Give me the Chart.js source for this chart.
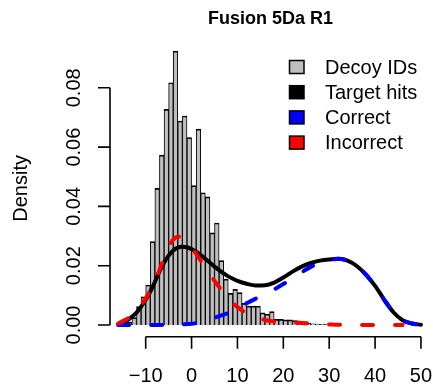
<!DOCTYPE html>
<html>
<head>
<meta charset="utf-8">
<script src="https://cdn.jsdelivr.net/npm/chart.js@4"></script>
<style>
  html, body { margin: 0; padding: 0; background: #fff; }
</style>
</head>
<body>
<canvas id="densityChart" width="433" height="390"></canvas>
<script>
// Histogram of decoy IDs (bin width 1, values at bin centres)
const binCenters = [-13.5, -12.5, -11.5, -10.5, -9.5, -8.5, -7.5, -6.5, -5.5, -4.5,
    -3.5, -2.5, -1.5, -0.5, 0.5, 1.5, 2.5, 3.5, 4.5, 5.5,
    6.5, 7.5, 8.5, 9.5, 10.5, 11.5, 12.5, 13.5, 14.5, 15.5,
    16.5, 17.5, 18.5, 19.5, 20.5, 21.5, 22.5, 23.5, 24.5, 25.5,
    26.5, 27.5, 28.5, 29.5];
const decoyDensity = [0.0010, 0.0025, 0.0062, 0.0095, 0.0135, 0.0281, 0.0461, 0.0573, 0.0727, 0.0817,
    0.0924, 0.0688, 0.0705, 0.0632, 0.0470, 0.0661, 0.0446, 0.0432, 0.0311, 0.0344,
    0.0217, 0.0155, 0.0107, 0.0120, 0.0109, 0.0073, 0.0064, 0.0064, 0.0064, 0.0041,
    0.0037, 0.0045, 0.0019, 0.0019, 0.0017, 0.0017, 0.0015, 0.0013, 0.0008, 0.0006,
    0.0004, 0.0003, 0.0003, 0.0002];

// Density curves at these x positions
const curveX = [-16, -15, -14, -13, -12, -11, -10, -9, -8, -7, -6, -5, -4, -3, -2, -1,
    0, 1, 2, 3, 4, 5, 6, 7, 8, 9, 10, 12, 14, 16, 18, 20, 22, 24, 26, 28,
    30, 32, 34, 36, 38, 40, 42, 44, 46, 48, 50];
const targetHits = [0.0002, 0.0008, 0.0016, 0.0028, 0.0042, 0.0062, 0.0085, 0.0112, 0.0145, 0.0180, 0.0210, 0.0234, 0.0251, 0.0261, 0.0264, 0.0262,
    0.0256, 0.0247, 0.0236, 0.0223, 0.0210, 0.0197, 0.0185, 0.0174, 0.0164, 0.0156, 0.0149, 0.0139, 0.0133, 0.0134, 0.0143, 0.0160, 0.0180, 0.0197, 0.0209, 0.0217,
    0.0221, 0.0223, 0.0217, 0.0199, 0.0170, 0.0132, 0.0085, 0.0043, 0.0016, 0.0005, 0.0001];
const correct = [0, 0, 0, 0, 0, 0, 0, 0, 0, 0, 0, 0.0001, 0.0001, 0.0002, 0.0002, 0.0003,
    0.0004, 0.0006, 0.0009, 0.0013, 0.0018, 0.0024, 0.0030, 0.0035, 0.0041, 0.0048, 0.0056, 0.0073, 0.0089, 0.0104, 0.0120, 0.0138, 0.0158, 0.0178, 0.0196, 0.0210,
    0.0219, 0.0223, 0.0217, 0.0199, 0.0170, 0.0132, 0.0085, 0.0043, 0.0016, 0.0005, 0.0001];
const incorrect = [0.0005, 0.0013, 0.0021, 0.0031, 0.0046, 0.0068, 0.0090, 0.0116, 0.0148, 0.0185, 0.0225, 0.0262, 0.0288, 0.0298, 0.0293, 0.0279,
    0.0261, 0.0240, 0.0217, 0.0194, 0.0171, 0.0149, 0.0128, 0.0108, 0.0090, 0.0074, 0.0060, 0.0040, 0.0026, 0.0017, 0.0012, 0.0010, 0.0009, 0.0007, 0.0005, 0.0003,
    0.0002, 0.0001, 0.0001, 0, 0, 0, 0, 0, 0, null, null];

const xTicks = [-10, 0, 10, 20, 30, 40, 50];
const yTicks = [0, 0.02, 0.04, 0.06, 0.08];
const chartTitle = 'Fusion 5Da R1';
const yTitle = 'Density';

const FONT = '"Liberation Sans", Arial, Helvetica, sans-serif';

function toPoints(xs, ys) {
    return xs.map((x, i) => ({ x: x, y: ys[i] }));
}

function fmtTick(v) {
    return v < 0 ? '\u2212' + Math.abs(v) : String(v);
}

// R-style axes, title and legend drawn on top of the chart
const rStylePlugin = {
    id: 'rStyle',
    afterDraw(chart) {
        const ctx = chart.ctx;
        const xs = chart.scales.x;
        const ys = chart.scales.y;
        const area = chart.chartArea;

        ctx.save();
        ctx.strokeStyle = '#000';
        ctx.fillStyle = '#000';
        ctx.lineWidth = 1.6;
        ctx.lineCap = 'butt';

        // x axis
        const axisY = area.bottom;
        ctx.beginPath();
        ctx.moveTo(xs.getPixelForValue(xTicks[0]), axisY);
        ctx.lineTo(xs.getPixelForValue(xTicks[xTicks.length - 1]), axisY);
        xTicks.forEach(v => {
            const p = xs.getPixelForValue(v);
            ctx.moveTo(p, axisY);
            ctx.lineTo(p, axisY + 12);
        });
        ctx.stroke();

        ctx.font = '20px ' + FONT;
        ctx.textAlign = 'center';
        ctx.textBaseline = 'alphabetic';
        xTicks.forEach(v => {
            ctx.fillText(fmtTick(v), xs.getPixelForValue(v), axisY + 45);
        });

        // y axis
        const axisX = area.left;
        ctx.beginPath();
        ctx.moveTo(axisX, ys.getPixelForValue(yTicks[0]));
        ctx.lineTo(axisX, ys.getPixelForValue(yTicks[yTicks.length - 1]));
        yTicks.forEach(v => {
            const p = ys.getPixelForValue(v);
            ctx.moveTo(axisX, p);
            ctx.lineTo(axisX - 12, p);
        });
        ctx.stroke();

        yTicks.forEach(v => {
            ctx.save();
            ctx.translate(axisX - 30, ys.getPixelForValue(v));
            ctx.rotate(-Math.PI / 2);
            ctx.fillText(v.toFixed(2), 0, 0);
            ctx.restore();
        });

        // y title
        ctx.save();
        ctx.translate(axisX - 83, (area.top + area.bottom) / 2);
        ctx.rotate(-Math.PI / 2);
        ctx.fillText(yTitle, 0, 0);
        ctx.restore();

        // main title
        ctx.font = 'bold 18px ' + FONT;
        ctx.fillText(chartTitle, (area.left + area.right) / 2, 23.5);

        // legend
        ctx.font = '20px ' + FONT;
        ctx.textAlign = 'left';
        ctx.textBaseline = 'middle';
        ctx.lineWidth = 1.5;
        chart.data.datasets.forEach((ds, i) => {
            const cy = 67 + i * 25.2;
            const fill = ds.type === 'bar' ? ds.backgroundColor : ds.borderColor;
            ctx.fillStyle = fill;
            ctx.fillRect(289.5, cy - 6.5, 14.5, 13);
            ctx.strokeRect(289.5, cy - 6.5, 14.5, 13);
            ctx.fillStyle = '#000';
            ctx.fillText(ds.label, 325, cy + 1);
        });

        ctx.restore();
    }
};

function initDensityChart() {
    const ctx = document.getElementById('densityChart').getContext('2d');

    new Chart(ctx, {
        type: 'bar',
        data: {
            datasets: [{
                type: 'bar',
                label: 'Decoy IDs',
                data: toPoints(binCenters, decoyDensity),
                backgroundColor: '#bebebe',
                borderColor: '#000',
                borderWidth: { top: 1.7, left: 1, right: 1, bottom: 0 },
                borderSkipped: false,
                barPercentage: 1,
                categoryPercentage: 1,
                order: 3
            }, {
                type: 'line',
                label: 'Target hits',
                data: toPoints(curveX, targetHits),
                borderColor: '#000000',
                borderWidth: 4,
                pointRadius: 0,
                fill: false,
                cubicInterpolationMode: 'monotone',
                borderJoinStyle: 'round',
                borderCapStyle: 'round',
                order: 2
            }, {
                type: 'line',
                label: 'Correct',
                data: toPoints(curveX, correct),
                borderColor: '#0000ff',
                borderWidth: 4,
                borderDash: [11, 22],
                pointRadius: 0,
                fill: false,
                cubicInterpolationMode: 'monotone',
                borderCapStyle: 'round',
                order: 1
            }, {
                type: 'line',
                label: 'Incorrect',
                data: toPoints(curveX, incorrect),
                borderColor: '#ff0000',
                borderWidth: 4,
                borderDash: [11, 22],
                pointRadius: 0,
                fill: false,
                cubicInterpolationMode: 'monotone',
                borderCapStyle: 'round',
                order: 0
            }]
        },
        options: {
            responsive: false,
            animation: false,
            layout: {
                padding: { left: 110, right: 2, top: 40, bottom: 53.3 }
            },
            plugins: {
                legend: { display: false },
                tooltip: { enabled: false },
                title: { display: false }
            },
            scales: {
                x: {
                    type: 'linear',
                    min: -17.78,
                    max: 52.19,
                    offset: false,
                    display: false
                },
                y: {
                    type: 'linear',
                    min: -0.00395,
                    max: 0.09612,
                    display: false
                }
            }
        },
        plugins: [rStylePlugin]
    });
}

document.addEventListener('DOMContentLoaded', function() {
    initDensityChart();
});
</script>
</body>
</html>
